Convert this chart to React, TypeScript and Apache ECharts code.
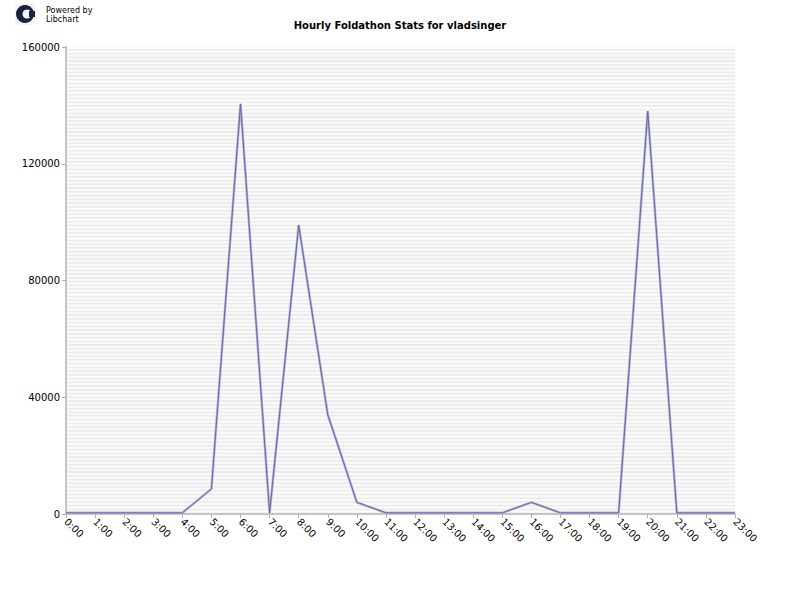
import React, { useEffect, useRef } from "react";
import * as echarts from "echarts";

const hours = [
  "0:00", "1:00", "2:00", "3:00", "4:00", "5:00", "6:00", "7:00", "8:00", "9:00", "10:00", "11:00",
  "12:00", "13:00", "14:00", "15:00", "16:00", "17:00", "18:00", "19:00", "20:00", "21:00", "22:00", "23:00",
];
const values = [
  400, 400, 400, 400, 400, 8600, 140500, 400, 99000, 34000, 4000, 400,
  400, 400, 400, 400, 4000, 400, 400, 400, 138000, 400, 400, 400,
];
const titleText = "Hourly Foldathon Stats for vladsinger";

export default function App() {
  const ref = useRef<HTMLDivElement>(null);
  useEffect(() => {
    if (!ref.current) return;
    const chart = echarts.init(ref.current, null, { renderer: "svg" });
    const font = "DejaVu Sans";
    chart.setOption({
      animation: false,
      backgroundColor: "#ffffff",
      title: {
        text: titleText,
        left: "center",
        top: 15,
        textStyle: { fontFamily: font, fontSize: 10, fontWeight: "bold", color: "#000" },
      },
      graphic: [
        { type: "rect", shape: { x: 15, y: 4, width: 20, height: 21 }, style: { fill: "#f4f4f6" } },
        { type: "circle", shape: { cx: 25, cy: 14, r: 9 }, style: { fill: "#1b2240" } },
        { type: "circle", shape: { cx: 27, cy: 14, r: 4.5 }, style: { fill: "#f4f4f6" } },
        { type: "rect", shape: { x: 29, y: 11, width: 6, height: 6 }, style: { fill: "#1b2240" } },
        {
          type: "text",
          x: 46,
          y: 6,
          style: { text: "Powered by", font: "8px DejaVu Sans", fill: "#000", verticalAlign: "top" },
        },
        {
          type: "text",
          x: 46,
          y: 15,
          style: { text: "Libchart", font: "8px DejaVu Sans", fill: "#000", verticalAlign: "top" },
        },
      ],
      grid: { left: 66, right: 65, top: 47, bottom: 86, containLabel: false },
      xAxis: {
        type: "category",
        data: hours,
        boundaryGap: false,
        axisLine: { lineStyle: { color: "#c4c4c4", width: 2 } },
        axisTick: { show: true, alignWithLabel: true, lineStyle: { color: "#b0b0b0" }, length: 4 },
        axisLabel: {
          rotate: -45,
          interval: 0,
          color: "#000",
          fontFamily: font,
          fontSize: 10,
          margin: 6,
        },
        splitLine: { show: false },
      },
      yAxis: [
        {
          type: "value",
          min: 0,
          max: 160000,
          interval: 40000,
          axisLine: { show: true, lineStyle: { color: "#c4c4c4", width: 2 } },
          axisTick: { show: true, length: 4, lineStyle: { color: "#b0b0b0" } },
          axisLabel: {
            color: "#000",
            fontFamily: font,
            fontSize: 10,
            margin: 6,
            formatter: (v: number) => String(v),
          },
          splitLine: { show: false },
          splitArea: { show: false },
        },
        {
          type: "value",
          min: 0,
          max: 160000,
          interval: 640,
          position: "left",
          axisLine: { show: false },
          axisTick: { show: false },
          axisLabel: { show: false },
          splitLine: { show: false },
          splitArea: { show: true, areaStyle: { color: ["#ebebeb", "#fafafa"] } },
        },
      ],
      series: [
        {
          type: "line",
          data: values,
          yAxisIndex: 0,
          symbol: "none",
          z: 2,
          lineStyle: { color: "#b4b4dc", width: 2.5 },
          silent: true,
        },
        {
          type: "line",
          data: values,
          yAxisIndex: 0,
          symbol: "none",
          z: 3,
          lineStyle: { color: "#66669a", width: 1 },
        },
      ],
    });
    return () => chart.dispose();
  }, []);
  return (
    <div
      ref={ref}
      style={{ position: "absolute", left: 0, top: 0, width: 800, height: 600 }}
    />
  );
}
